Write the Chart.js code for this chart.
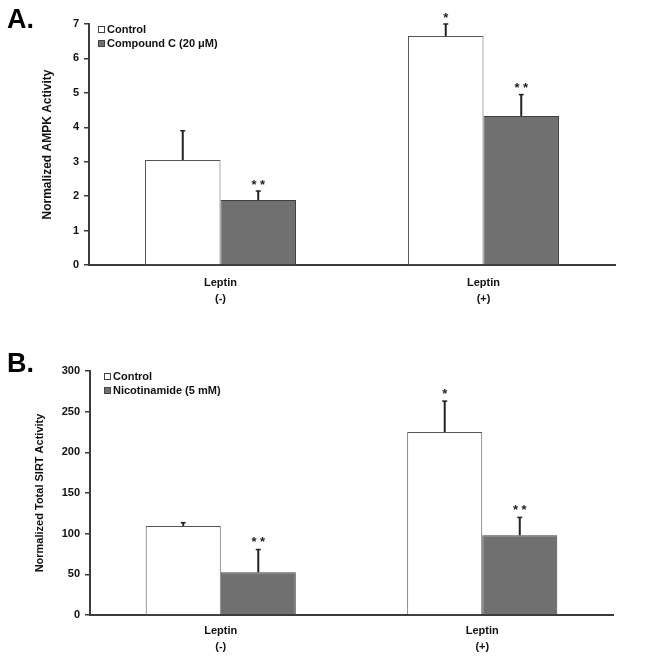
<!DOCTYPE html>
<html>
<head>
<meta charset="utf-8">
<script src="https://cdn.jsdelivr.net/npm/chart.js@4.4.0/dist/chart.umd.min.js"></script>
<style>
  body { margin: 0; background: #fff; }
  .box { position: absolute; left: 0; width: 649px; }
  #boxA { top: 0; height: 325px; }
  #boxB { top: 325px; height: 333px; }
</style>
</head>
<body>
<div class="box" id="boxA"><canvas id="chartA"></canvas></div>
<div class="box" id="boxB"><canvas id="chartB"></canvas></div>
<script>
// shared categories
const categories = [['Leptin', '(-)'], ['Leptin', '(+)']];

// panel A: AMPK activity
const ampkControl = [3.05, 6.65];
const ampkControlErr = [0.85, 0.35];
const ampkCompound = [1.89, 4.33];
const ampkCompoundErr = [0.26, 0.62];
const ampkControlStars = ['', '*'];
const ampkCompoundStars = ['**', '**'];

// panel B: total SIRT activity
const sirtControl = [109.5, 225];
const sirtControlErr = [4, 38];
const sirtNico = [52.5, 98];
const sirtNicoErr = [28, 22];
const sirtControlStars = ['', '*'];
const sirtNicoStars = ['**', '**'];

const FONT = '"Liberation Sans", Arial, sans-serif';
const AXIS = '#3c3c3c';

// error bars (upper only), significance stars, panel letter, legend
const extras = {
    id: 'extras',
    afterDatasetsDraw(chart, args, opts) {
        const ctx = chart.ctx;
        ctx.save();
        chart.data.datasets.forEach((ds, i) => {
            const meta = chart.getDatasetMeta(i);
            meta.data.forEach((bar, j) => {
                const yTop = chart.scales.y.getPixelForValue(ds.data[j] + ds.errors[j]);
                ctx.strokeStyle = '#222';
                ctx.lineWidth = 2;
                ctx.beginPath();
                ctx.moveTo(bar.x, bar.y);
                ctx.lineTo(bar.x, yTop);
                ctx.stroke();
                ctx.lineWidth = 1.5;
                ctx.beginPath();
                ctx.moveTo(bar.x - 2.5, yTop);
                ctx.lineTo(bar.x + 2.5, yTop);
                ctx.stroke();
                if (ds.stars[j]) {
                    ctx.fillStyle = '#222';
                    ctx.font = 'bold 13px ' + FONT;
                    ctx.textAlign = 'center';
                    ctx.textBaseline = 'middle';
                    ctx.fillText(ds.stars[j].split('').join(' '), bar.x, yTop - opts.starGap + 3);
                }
            });
        });

        // panel letter
        ctx.fillStyle = '#000';
        ctx.font = 'bold 27px ' + FONT;
        ctx.textAlign = 'left';
        ctx.textBaseline = 'alphabetic';
        ctx.fillText(opts.letter, 7, opts.letterY);

        // legend
        const lx = chart.chartArea.left + opts.legendDx;
        chart.data.datasets.forEach((ds, i) => {
            const cy = chart.chartArea.top + 5 + i * 14;
            ctx.fillStyle = ds.backgroundColor;
            ctx.fillRect(lx, cy - 3, 6, 6);
            ctx.strokeStyle = '#444';
            ctx.lineWidth = 1;
            ctx.strokeRect(lx + 0.5, cy - 2.5, 6, 6);
            ctx.fillStyle = '#111';
            ctx.font = 'bold 11px ' + FONT;
            ctx.textBaseline = 'middle';
            ctx.fillText(ds.label, lx + 9, cy + 0.5);
        });
        ctx.restore();
    }
};

function createChart(id, sets, yOpts, layout) {
    const data = {
        labels: categories,
        datasets: sets.map(s => ({
            label: s.label,
            data: s.values,
            errors: s.errors,
            stars: s.stars,
            backgroundColor: s.color,
            borderColor: s.border,
            borderWidth: 1,
            borderSkipped: 'bottom',
            barPercentage: 1.0,
            categoryPercentage: 0.574
        }))
    };

    const config = {
        type: 'bar',
        data,
        plugins: [extras],
        options: {
            responsive: true,
            maintainAspectRatio: false,
            animation: false,
            layout: { padding: { top: layout.top, right: layout.right, left: 0, bottom: 0 } },
            plugins: {
                legend: { display: false },
                tooltip: { enabled: false },
                extras: layout.extras
            },
            scales: {
                x: {
                    grid: { display: false, drawTicks: false },
                    border: { display: true, color: AXIS, width: 2 },
                    ticks: {
                        color: '#111',
                        padding: layout.xPad,
                        font: { family: FONT, size: 11, weight: 'bold', lineHeight: 1.45 }
                    },
                    afterFit(scale) { scale.height = layout.xHeight; }
                },
                y: {
                    min: 0,
                    max: yOpts.max,
                    ticks: {
                        stepSize: yOpts.step,
                        color: '#111',
                        padding: 5,
                        font: { family: FONT, size: 11, weight: 'bold' }
                    },
                    grid: { drawOnChartArea: false, tickLength: 5, color: AXIS, lineWidth: 1.5 },
                    border: { display: true, color: AXIS, width: 2 },
                    title: {
                        display: true,
                        text: yOpts.title,
                        color: '#111',
                        padding: { top: layout.titlePad },
                        font: { family: FONT, size: yOpts.titleSize, weight: 'bold' }
                    },
                    afterFit(scale) { scale.width = layout.yWidth; }
                }
            }
        }
    };

    return new Chart(document.getElementById(id), config);
}

createChart('chartA', [
    { label: 'Control', values: ampkControl, errors: ampkControlErr, stars: ampkControlStars, color: '#ffffff', border: '#555555' },
    { label: 'Compound C (20 \u03bcM)', values: ampkCompound, errors: ampkCompoundErr, stars: ampkCompoundStars, color: '#707070', border: '#404040' }
], { max: 7, step: 1, title: 'Normalized AMPK Activity', titleSize: 12 },
   { top: 24, right: 34, xHeight: 60, yWidth: 89, xPad: 10, titlePad: 40,
     extras: { letter: 'A.', letterY: 28, legendDx: 9, starGap: 9 } });

createChart('chartB', [
    { label: 'Control', values: sirtControl, errors: sirtControlErr, stars: sirtControlStars, color: '#ffffff', border: '#555555' },
    { label: 'Nicotinamide (5 mM)', values: sirtNico, errors: sirtNicoErr, stars: sirtNicoStars, color: '#707070', border: '#404040' }
], { max: 300, step: 50, title: 'Normalized Total SIRT Activity', titleSize: 11 },
   { top: 46, right: 36, xHeight: 43, yWidth: 90, xPad: 8, titlePad: 33,
     extras: { letter: 'B.', letterY: 47, legendDx: 14, starGap: 10 } });
</script>
</body>
</html>
